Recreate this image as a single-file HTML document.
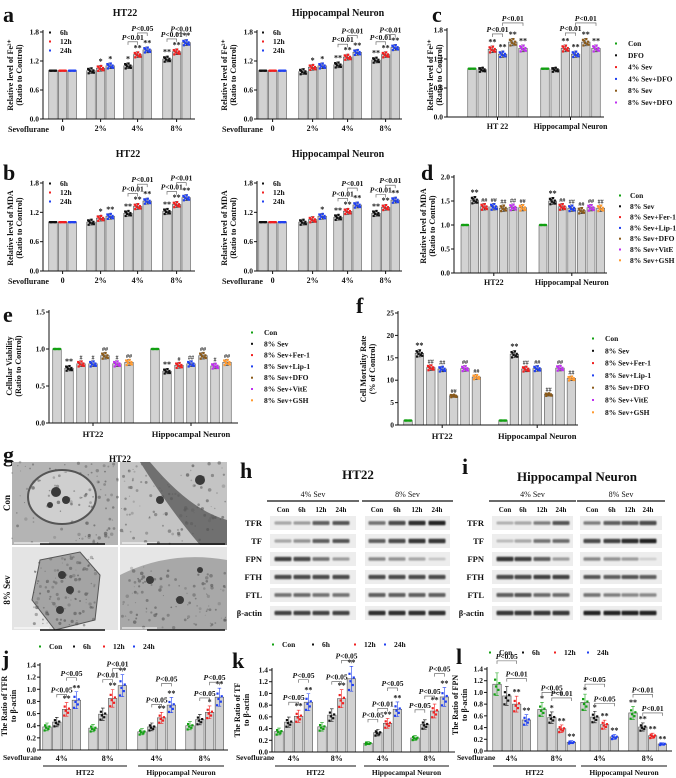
<!DOCTYPE html>
<html><head><meta charset="utf-8"><style>
html,body{margin:0;padding:0;background:#fff;}
svg{display:block;font-family:"Liberation Serif",serif;}
</style></head><body>
<svg id="fig" width="676" height="778" viewBox="0 0 676 778" xmlns="http://www.w3.org/2000/svg">
<defs><filter id="blur" x="-20%" y="-100%" width="140%" height="300%"><feGaussianBlur stdDeviation="0.8"/></filter></defs>
<rect width="676" height="778" fill="#fff"/>
</svg>
<script>
// ---------- data ----------
const aCats=['0','2%','4%','8%'];
const aHT_6h=[1,1.0,1.10,1.24];
const aHT_12h=[1,1.05,1.33,1.39];
const aHT_24h=[1,1.10,1.43,1.58];
const aHN_6h=[1,0.98,1.12,1.22];
const aHN_12h=[1,1.07,1.28,1.33];
const aHN_24h=[1,1.10,1.38,1.48];
const bHT_6h=[1,1.0,1.18,1.22];
const bHT_12h=[1,1.08,1.32,1.36];
const bHT_24h=[1,1.12,1.43,1.50];
const bHN_6h=[1,1.0,1.10,1.18];
const bHN_12h=[1,1.05,1.22,1.30];
const bHN_24h=[1,1.12,1.35,1.45];
const cdCats=['HT 22','Hippocampal Neuron'];
const cCon=[1.0,1.0], cDFO=[0.98,0.98], c4Sev=[1.40,1.42], c4SevDFO=[1.30,1.30], c8Sev=[1.55,1.55], c8SevDFO=[1.42,1.42];
const efCats=['HT22','Hippocampal Neuron'];
const dCon=[1,1], d8Sev=[1.52,1.50], dFer=[1.38,1.38], dLip=[1.38,1.35], dDFO=[1.35,1.30], dVitE=[1.37,1.36], dGSH=[1.36,1.35];
const eCon=[1,1], e8Sev=[0.74,0.70], eFer=[0.80,0.78], eLip=[0.80,0.80], eDFO=[0.91,0.91], eVitE=[0.80,0.77], eGSH=[0.82,0.82];
const fCon=[1,1], f8Sev=[16.0,15.8], fFer=[12.8,12.5], fLip=[12.5,12.6], fDFO=[6.5,6.8], fVitE=[12.6,12.7], fGSH=[10.7,10.4];
const jklCats=['4%','8%','4%','8%'];
const jCon=[0.38,0.36,0.30,0.40], j6h=[0.46,0.59,0.38,0.50], j12h=[0.67,0.85,0.53,0.62], j24h=[0.82,1.06,0.74,0.87];
const kCon=[0.35,0.43,0.15,0.24], k6h=[0.51,0.63,0.33,0.47], k12h=[0.61,0.91,0.49,0.70], k24h=[0.85,1.25,0.73,0.94];
const lCon=[1.14,0.71,0.83,0.65], l6h=[0.94,0.57,0.58,0.41], l12h=[0.80,0.38,0.45,0.26], l24h=[0.53,0.15,0.24,0.12];
const blotRows=['TFR','TF','FPN','FTH','FTL','β-actin'];
const blotLanes=['Con','6h','12h','24h'];
const htBands=[[.35,.4,.7,.75,.6,.8,.95,1],[.35,.45,.7,.75,.7,.8,.9,.9],[.85,.8,.6,.4,.5,.45,.35,.2],[.8,.8,.8,.8,.8,.8,.8,.8],[.6,.65,.6,.6,.7,.7,.7,.7],[.85,.85,.85,.85,.95,.95,.95,.95]];
const hnBands=[[.3,.35,.55,.75,.55,.7,.75,.8],[.25,.35,.6,.65,.8,.85,.95,1],[.9,.85,.7,.4,.5,.45,.4,.15],[.8,.8,.85,.85,.75,.7,.75,.7],[.7,.75,.65,.65,.6,.55,.5,.5],[.9,.9,.9,.9,1,1,1,1]];

// ---------- helpers ----------
const NS='http://www.w3.org/2000/svg';
const root=document.getElementById('fig');
const DX=[-2.5,1.5,-1,2.5,-2,0.5,3,-3], DY=[-0.9,-0.5,-0.2,0.1,0.4,0.8,-0.7,0.6];
function el(tag,attrs,parent,name){
  const e=document.createElementNS(NS,tag);
  for(const k in attrs) e.setAttribute(k,attrs[k]);
  
  
  (parent||root).appendChild(e);
  return e;
}
function txt(x,y,s,size,opt,parent,name){
  opt=opt||{};
  const t=el('text',{x:x,y:y,'font-size':size,'text-anchor':opt.anchor||'middle','font-weight':opt.weight||'bold',fill:opt.fill||'#111'},parent,name||'label');
  if(opt.rot) t.setAttribute('transform','rotate(-90 '+x+' '+y+')');
  t.textContent=s;
  return t;
}
function ptxt(x,y,s,parent){
  const t=el('text',{x:x,y:y,'font-size':7.5,'text-anchor':'middle','font-weight':'bold',fill:'#111'},parent,'p-value-label');
  const a=document.createElementNS(NS,'tspan');a.setAttribute('font-style','italic');a.textContent='P';t.appendChild(a);
  const b=document.createElementNS(NS,'tspan');b.textContent=s;t.appendChild(b);
}
function chart(p){
  const g=el('g',{},root,p.name);
  const Y=v=>p.yb-(v/p.max)*(p.yb-p.yt);
  const n=p.series.length;
  p.series.forEach((s,b)=>{
    p.starts.forEach((st,gi)=>{
      const cx=st+b*p.sp, v=s[gi], sd=p.sd(gi,b,v);
      el('rect',{x:cx-p.bw/2,y:Y(v),width:p.bw,height:p.yb-Y(v),fill:'#d2d2d2',stroke:'#555','stroke-width':0.6},g,'bar-'+p.keys[b]+'-'+gi);
      const ec=p.errColor?p.colors[b]:'#333';
      if(sd>0){
        el('path',{d:`M${cx},${Y(v+sd)}V${Y(v-sd)}M${cx-1.8},${Y(v+sd)}H${cx+1.8}M${cx-1.8},${Y(v-sd)}H${cx+1.8}`,stroke:ec,'stroke-width':0.6,fill:'none'},g,'error-bar');
      }
      const nd=p.nd||8;
      for(let i=0;i<nd;i++){
        el('rect',{x:cx+DX[i]*(p.bw/9)-1.1,y:Y(v+DY[i]*sd)-1.1,width:2.2,height:2.2,fill:p.colors[b]},g,'data-point');
      }
      if(sd===0) el('line',{x1:cx-p.bw/2,x2:cx+p.bw/2,y1:Y(v),y2:Y(v),stroke:p.colors[b],'stroke-width':1.6},g,'control-line');
      const sg=p.sig[b][gi];
      if(sg) txt(cx,Y(v+sd)-1.5,sg,sg[0]==='#'?6:8,{weight:'bold',fill:'#111'},g,'significance-mark');
    });
  });
  el('path',{d:`M${p.x0},${p.yt-2}V${p.yb}H${p.x1}`,stroke:'#111','stroke-width':1,fill:'none'},g,'axes');
  p.ticks.forEach(t=>{
    el('line',{x1:p.x0-3,x2:p.x0,y1:Y(t),y2:Y(t),stroke:'#111','stroke-width':1},g,'y-tick');
    txt(p.x0-4,Y(t)+2.5,t.toFixed(p.dec),7.5,{anchor:'end'},g,'y-tick-label');
  });
  if(p.cats){
    p.starts.forEach((st,gi)=>{
      const cx=st+(n-1)*p.sp/2;
      el('line',{x1:cx,x2:cx,y1:p.yb,y2:p.yb+3,stroke:'#111','stroke-width':1},g,'x-tick');
      txt(cx,p.yb+p.catDy,p.cats[gi],p.catSize||8,{},g,'x-tick-label');
    });
  }
  (p.br||[]).forEach(q=>{
    const [gi,b1,b2,off,lab]=q;
    const x1=p.starts[gi]+b1*p.sp, x2=p.starts[gi]+b2*p.sp;
    const v1=p.series[b1][gi], v2=p.series[b2][gi];
    const top=Math.min(Y(v1+p.sd(gi,b1,v1)),Y(v2+p.sd(gi,b2,v2)))-off;
    el('path',{d:`M${x1},${top+3}V${top}H${x2}V${top+3}`,stroke:'#555','stroke-width':0.6,fill:'none'},g,'comparison-bracket');
    ptxt((x1+x2)/2,top-2,lab,g);
  });
  txt(p.ytx,p.yty,p.yt1,8,{rot:true},g,'y-axis-title');
  txt(p.ytx+9,p.yty,p.yt2,8,{rot:true},g,'y-axis-title');
  if(p.leg){
    const L=p.leg;
    p.names.forEach((nm,i)=>{
      const lx=L.hx?L.hx[i]:L.x, ly=L.hx?L.y:L.y+i*L.dy;
      el('rect',{x:lx-1,y:ly-3.5,width:2,height:2,fill:p.colors[i]},g,'legend-marker');
      txt(lx+(L.gap||10),ly,nm,7.5,{anchor:'start'},g,'legend-entry');
    });
  }
  return g;
}
const c3=['#111','#f02020','#2040f0'];
const c6=['#12a012','#111','#f02020','#2040f0','#8b5a1a','#c030f0'];
const c7=['#12a012','#111','#f02020','#2040f0','#8b5a1a','#c030f0','#ff9a30'];
const c4=['#12a012','#111','#f02020','#2040f0'];
const k3=['6h','12h','24h'];
const sdA=(gi,b,v)=>gi===0?0:0.06;
const sd2=(gi,b,v)=>b===0?0:v*0.05;
const sdJ=(gi,b,v)=>v*0.17;

[['a',3,22],['b',3,180],['c',432,22],['d',421,180],['e',3,322],['f',356,313],['g',3,462],['h',240,478],['i',462,474],['j',2,666],['k',232,668],['l',456,664]].forEach(q=>txt(q[1],q[2],q[0],22,{anchor:'start'},root,'panel-letter-'+q[0]));
txt(125,16,'HT22',10,{},root,'panel-a-title');
txt(338,16,'Hippocampal Neuron',10,{},root,'panel-a-title');
txt(128,157,'HT22',10,{},root,'panel-b-title');
txt(338,157,'Hippocampal Neuron',10,{},root,'panel-b-title');

const aBase={max:1.8,ticks:[0,0.6,1.2,1.8],dec:1,yt:32,yb:119,sp:9.6,bw:8.5,keys:k3,colors:c3,sd:sdA,cats:aCats,catDy:12,names:k3};
chart(Object.assign({},aBase,{name:'chart-a-ht22',x0:43,x1:195,starts:[53,91,128,167],series:[aHT_6h,aHT_12h,aHT_24h],
 sig:[['','','*','**'],['','*','**','**'],['','*','**','**']],br:[[2,0,1,10,'<0.01'],[2,1,2,14,'<0.05'],[3,0,1,10,'<0.01'],[3,1,2,6,'<0.01']],
 ytx:13,yty:75,yt1:'Relative level of Fe²⁺',yt2:'(Ratio to Control)',leg:{x:50,y:35,dy:9}}));
chart(Object.assign({},aBase,{name:'chart-a-neuron',x0:257,x1:402,starts:[263,303,338,376],series:[aHN_6h,aHN_12h,aHN_24h],
 sig:[['','','**','**'],['','*','**','**'],['','*','**','**']],br:[[2,0,1,10,'<0.01'],[2,1,2,14,'<0.01'],[3,0,1,10,'<0.01'],[3,1,2,10,'<0.01']],
 ytx:227,yty:75,yt1:'Relative level of Fe²⁺',yt2:'(Ratio to Control)',leg:{x:263,y:35,dy:9}}));
txt(8,132,'Sevoflurane',8,{anchor:'start'},root,'x-axis-title');
txt(222,132,'Sevoflurane',8,{anchor:'start'},root,'x-axis-title');
const bBase=Object.assign({},aBase,{yt:183,yb:271});
chart(Object.assign({},bBase,{name:'chart-b-ht22',x0:43,x1:195,starts:[53,91,128,167],series:[bHT_6h,bHT_12h,bHT_24h],
 sig:[['','','**','**'],['','*','**','**'],['','**','**','**']],br:[[2,0,1,10,'<0.01'],[2,1,2,14,'<0.01'],[3,0,1,10,'<0.01'],[3,1,2,12,'<0.01']],
 ytx:13,yty:228,yt1:'Relative level of MDA',yt2:'(Ratio to Control)',leg:{x:50,y:186,dy:9}}));
chart(Object.assign({},bBase,{name:'chart-b-neuron',x0:257,x1:402,starts:[263,303,338,376],series:[bHN_6h,bHN_12h,bHN_24h],
 sig:[['','','**','**'],['','','**','**'],['','*','**','**']],br:[[2,0,1,10,'<0.01'],[2,1,2,14,'<0.01'],[3,0,1,10,'<0.01'],[3,1,2,12,'<0.01']],
 ytx:227,yty:228,yt1:'Relative level of MDA',yt2:'(Ratio to Control)',leg:{x:263,y:186,dy:9}}));
txt(8,284,'Sevoflurane',8,{anchor:'start'},root,'x-axis-title');
txt(222,284,'Sevoflurane',8,{anchor:'start'},root,'x-axis-title');
chart({name:'chart-c',x0:447,x1:604,yt:30,yb:117,max:1.8,ticks:[0,0.6,1.2,1.8],dec:1,starts:[472,545],sp:10.2,bw:8.5,
 keys:['con','dfo','4sev','4sevdfo','8sev','8sevdfo'],colors:c6,sd:sd2,cats:cdCats,catDy:12,series:[cCon,cDFO,c4Sev,c4SevDFO,c8Sev,c8SevDFO],
 sig:[['',''],['',''],['**','**'],['**','**'],['**','**'],['**','**']],br:[[0,2,3,12,'<0.01'],[0,3,5,22,'<0.01'],[1,2,3,12,'<0.01'],[1,3,5,22,'<0.01']],
 ytx:433,yty:75,yt1:'Relative level of Fe²⁺',yt2:'(Ratio to Control)',names:['Con','DFO','4% Sev','4% Sev+DFO','8% Sev','8% Sev+DFO'],leg:{x:616,y:46,dy:11.8,gap:12}});
chart({name:'chart-d',x0:454,x1:607,yt:177,yb:273,max:2.0,ticks:[0,0.5,1.0,1.5,2.0],dec:1,starts:[465,543],sp:9.6,bw:8,
 keys:['con','8sev','fer','lip','dfo','vite','gsh'],colors:c7,sd:sd2,cats:efCats,catDy:12,series:[dCon,d8Sev,dFer,dLip,dDFO,dVitE,dGSH],
 sig:[['',''],['**','**'],['##','##'],['##','##'],['##','##'],['##','##'],['##','##']],
 ytx:426,yty:226,yt1:'Relative level of MDA',yt2:'(Ratio to Control)',names:['Con','8% Sev','8% Sev+Fer-1','8% Sev+Lip-1','8% Sev+DFO','8% Sev+VitE','8% Sev+GSH'],leg:{x:620,y:198,dy:10.8,gap:10}});
chart({name:'chart-e',x0:49,x1:238,yt:312,yb:423,max:1.5,ticks:[0,0.5,1.0,1.5],dec:1,starts:[57,155],sp:12,bw:8.5,
 keys:['con','8sev','fer','lip','dfo','vite','gsh'],colors:c7,sd:sd2,cats:efCats,catDy:14,catSize:8.5,series:[eCon,e8Sev,eFer,eLip,eDFO,eVitE,eGSH],
 sig:[['',''],['**','**'],['#','#'],['#','##'],['##','##'],['#','#'],['##','##']],
 ytx:12,yty:366,yt1:'Cellular Viability',yt2:'(Ratio to Control)',names:['Con','8% Sev','8% Sev+Fer-1','8% Sev+Lip-1','8% Sev+DFO','8% Sev+VitE','8% Sev+GSH'],leg:{x:252,y:335,dy:11.3,gap:12}});
chart({name:'chart-f',x0:398,x1:578,yt:313,yb:425,max:25,ticks:[0,5,10,15,20,25],dec:0,starts:[408,503],sp:11.4,bw:8.5,
 keys:['con','8sev','fer','lip','dfo','vite','gsh'],colors:c7,sd:sd2,cats:efCats,catDy:14,catSize:8.5,series:[fCon,f8Sev,fFer,fLip,fDFO,fVitE,fGSH],
 sig:[['',''],['**','**'],['##','##'],['##','##'],['##','##'],['##','##'],['##','##']],
 ytx:366,yty:369,yt1:'Cell Mortality Rate',yt2:'(% of Control)',names:['Con','8% Sev','8% Sev+Fer-1','8% Sev+Lip-1','8% Sev+DFO','8% Sev+VitE','8% Sev+GSH'],leg:{x:593,y:341,dy:12.3,gap:12}});

const jklNames=['Con','6h','12h','24h'];
function jkl(o){
  chart(Object.assign({max:1.4,ticks:[0,0.2,0.4,0.6,0.8,1.0,1.2,1.4],dec:1,sp:9.8,bw:8.5,keys:['con','6h','12h','24h'],colors:c4,errColor:true,sd:sdJ,nd:5,names:jklNames},o));
  o.starts.forEach((st,gi)=>txt(st+14.7,761,jklCats[gi],8,{},root,'x-group-label'));
  txt(o.sevX,760,'Sevoflurane',7.5,{anchor:'start'},root,'x-axis-title');
  el('line',{x1:o.starts[0]-4,x2:o.starts[1]+34,y1:766,y2:766,stroke:'#111','stroke-width':1},root,'group-underline');
  el('line',{x1:o.starts[2]-4,x2:o.starts[3]+34,y1:766,y2:766,stroke:'#111','stroke-width':1},root,'group-underline');
  txt((o.starts[0]+o.starts[1]+30)/2,775,'HT22',7.5,{},root,'cell-line-label');
  txt((o.starts[2]+o.starts[3]+30)/2,775,'Hippocampal Neuron',7.5,{},root,'cell-line-label');
}
jkl({name:'chart-j',x0:40,x1:228,yt:665,yb:750,starts:[47,93,142,190],series:[jCon,j6h,j12h,j24h],
 sig:[['','','',''],['','','',''],['**','**','**','*'],['**','**','**','**']],br:[[0,1,2,8,'<0.05'],[0,2,3,14,'<0.05'],[1,1,2,10,'<0.01'],[1,2,3,6,'<0.01'],[2,1,2,8,'<0.05'],[2,2,3,14,'<0.05'],[3,1,2,8,'<0.05'],[3,2,3,6,'<0.05']],
 ytx:7,yty:706,yt1:'The Ratio of TFR',yt2:'to β-actin',leg:{hx:[40,74,104,134],y:649,gap:9},sevX:3});
jkl({name:'chart-k',x0:272,x1:455,yt:670,yb:752,starts:[279,322,368,415],series:[kCon,k6h,k12h,k24h],
 sig:[['','','',''],['','','',''],['**','**','**','**'],['**','**','**','**']],br:[[0,1,2,8,'<0.05'],[0,2,3,14,'<0.05'],[1,1,2,8,'<0.05'],[1,2,3,6,'<0.05'],[2,0,1,10,'<0.05'],[2,1,2,10,'<0.01'],[2,2,3,14,'<0.05'],[3,0,1,10,'<0.05'],[3,1,2,8,'<0.05'],[3,2,3,14,'<0.05']],
 ytx:240,yty:710,yt1:'The Ratio of TF',yt2:'to β-actin',leg:{hx:[273,313,355,385],y:647,gap:9},sevX:236});
jkl({name:'chart-l',x0:487,x1:672,yt:669,yb:751,starts:[497,542,585,633],series:[lCon,l6h,l12h,l24h],
 sig:[['','*','*','**'],['','*','*','**'],['**','**','**','**'],['**','**','**','**']],br:[[0,0,2,12,'<0.05'],[0,1,3,8,'<0.01'],[1,0,2,10,'<0.05'],[1,1,3,14,'<0.01'],[2,0,2,10,'<0.05'],[2,1,3,8,'<0.05'],[3,0,2,12,'<0.01'],[3,1,3,10,'<0.01']],
 ytx:458,yty:705,yt1:'The Ratio of FPN',yt2:'to β-actin',leg:{hx:[490,523,555,588],y:655,gap:9},sevX:457});

// ---------- g: EM images ----------
const gG=el('g',{},root,'em-images');
txt(120,462,'HT22',9,{},gG,'panel-g-title');
el('rect',{x:12,y:462,width:106,height:83,fill:'#b4b4b4'},gG,'em-con-low');
el('ellipse',{cx:62,cy:497,rx:34,ry:27,fill:'#cfcfcf',stroke:'#555','stroke-width':2},gG,'nucleus');
el('rect',{x:120,y:462,width:107,height:83,fill:'#c4c4c4'},gG,'em-con-high');
el('path',{d:'M150,462 Q190,510 227,520 L227,545 L200,545 Q170,510 140,462Z',fill:'#707070'},gG,'membrane');
el('rect',{x:12,y:547,width:106,height:83,fill:'#e4e4e4'},gG,'em-sev-low');
el('path',{d:'M40,560 L80,552 L100,575 L95,620 L55,630 L32,600Z',fill:'#a4a4a4',stroke:'#555'},gG,'cell-body');
el('rect',{x:120,y:547,width:107,height:83,fill:'#a8a8a8'},gG,'em-sev-high');
el('path',{d:'M120,575 Q170,550 227,560 L227,547 L120,547Z',fill:'#e6e6e6'},gG,'background-region');
// deterministic speckle texture
let seed=7;
function rnd(){seed=(seed*16807)%2147483647;return seed/2147483647;}
const regions=[[12,462,106,83],[120,462,107,83],[34,556,62,70],[120,566,107,64]];
regions.forEach(r=>{
  for(let i=0;i<110;i++){
    const sp=el('circle',{cx:r[0]+rnd()*r[2],cy:r[1]+rnd()*r[3],r:0.5+rnd()*1.3,fill:'#555',opacity:0.25+rnd()*0.4},gG,'em-texture');
  }
});
[[56,492,5],[66,500,4],[50,505,3],[62,575,4],[70,590,4],[60,610,4],[160,500,4],[200,480,5],[150,580,4],[180,600,4],[200,570,3]].forEach(q=>el('circle',{cx:q[0],cy:q[1],r:q[2],fill:'#3a3a3a'},gG,'mitochondrion'));
[[14,543,35],[122,543,35],[14,628,35],[122,628,35]].forEach(q=>el('line',{x1:q[0],x2:q[0]+q[2],y1:q[1],y2:q[1],stroke:'#fff','stroke-width':1},gG,'scale-bar'));
[[40,542,105],[147,542,225],[40,628,105],[147,628,225]].forEach(q=>el('line',{x1:q[0],x2:q[2],y1:q[1]+2,y2:q[1]+2,stroke:'#111','stroke-width':1.5},gG,'scale-strip'));
txt(10,503,'Con',9,{rot:true},gG,'row-label-con');
txt(10,590,'8% Sev',9,{rot:true},gG,'row-label-sev');

// ---------- h/i: western blots ----------
function blot(o){
  const g=el('g',{},root,o.name);
  txt(o.tx,o.ty,o.title,13,{},g,'blot-title');
  o.boxes.forEach((bx,k)=>{
    el('line',{x1:bx[0]-3,x2:bx[1]+3,y1:501,y2:501,stroke:'#111','stroke-width':1.2},g,'treatment-line');
    txt((bx[0]+bx[1])/2,497,k===0?'4% Sev':'8% Sev',8,{weight:'normal'},g,'treatment-label');
    blotLanes.forEach((ln,li)=>txt(o.lanes[k*4+li],512,ln,7,{},g,'lane-label'));
  });
  blotRows.forEach((r,ri)=>{
    const cy=523+ri*18;
    txt(o.lx,cy+3,r,8.5,{anchor:'end'},g,'protein-label');
    o.boxes.forEach(bx=>el('rect',{x:bx[0],y:cy-7,width:bx[1]-bx[0],height:14,fill:'#ededed'},g,'blot-strip'));
    o.bands[ri].forEach((v,li)=>{
      el('rect',{x:o.lanes[li]-8.5,y:cy-1.2-v*1.1,width:17,height:2.4+v*2.2,rx:1,fill:'#111',opacity:v*0.9,filter:'url(#blur)'},g,'band');
    });
  });
}
blot({name:'blot-ht22',title:'HT22',tx:358,ty:479,boxes:[[270,356],[365,450]],lanes:[283,302,321,341,377,397,417,437],lx:262,bands:htBands});
blot({name:'blot-neuron',title:'Hippocampal Neuron',tx:577,ty:481,boxes:[[492,573],[580,662]],lanes:[505,523,542,561,592,612,630,648],lx:484,bands:hnBands});
</script>
</body></html>
